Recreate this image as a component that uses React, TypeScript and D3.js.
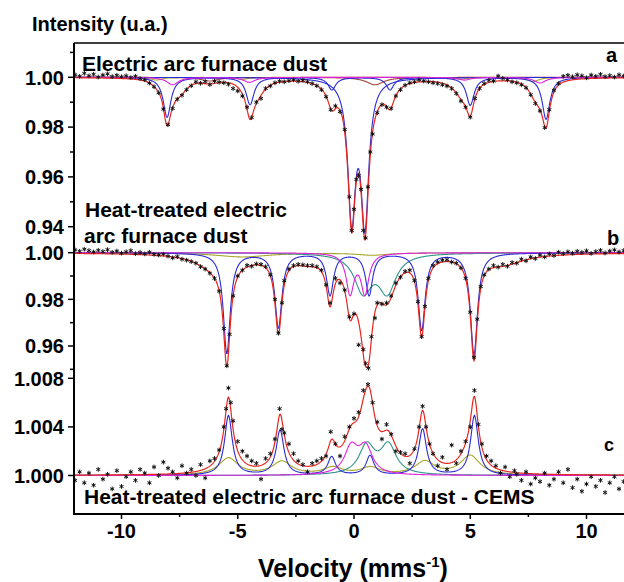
import React from 'react';
import * as d3 from 'd3';

// ---------- tick values ----------
const xTicks = [-10, -5, 0, 5, 10];
const xMinorTicks = [-7.5, -2.5, 2.5, 7.5];
const aTicks = [1.0, 0.98, 0.96, 0.94];
const aMinorTicks = [1.01, 0.99, 0.97, 0.95];
const bTicks = [1.0, 0.98, 0.96];
const bMinorTicks = [0.99, 0.97, 0.95];
const cTicks = [1.0, 1.004, 1.008];

// ---------- sub-spectra: [position (mm/s), depth, half width] ----------
const aSextetBlue = [[-8.04, 0.016, 0.2], [-4.47, 0.011, 0.2], [-0.95, 0.005, 0.2], [1.55, 0.005, 0.2], [5.0, 0.0112, 0.2], [8.26, 0.0168, 0.2]];
const aDoubletBlue = [[-0.1, 0.0545, 0.2], [0.47, 0.0565, 0.2]];
const aMagenta = [[-7.8, 0.003, 0.3], [-4.5, 0.002, 0.3], [4.75, 0.0011, 0.3], [8.0, 0.0023, 0.3]];
const aOlive = [[-8.5, 0.0011, 0.3], [-4.8, 0.0008, 0.3], [4.6, 0.0008, 0.3], [7.7, 0.0017, 0.3]];
const aBrown = [[-6.2, 0.0015, 0.45], [0.9, 0.003, 0.45]];
const aBroad = [[-7.45, 0.004, 0.35], [-4.15, 0.005, 0.4], [-0.95, 0.004, 0.35], [1.55, 0.004, 0.35], [4.65, 0.0045, 0.5], [7.85, 0.004, 0.35]];

const bSextetBlue = [[-5.47, 0.043, 0.18], [-3.25, 0.032, 0.18], [-1.03, 0.018, 0.18], [0.65, 0.018, 0.18], [2.91, 0.033, 0.18], [5.16, 0.0435, 0.18]];
const bMagenta = [[-0.17, 0.017, 0.2], [0.47, 0.017, 0.2]];
const bTeal = [[0.39, 0.016, 0.45], [1.43, 0.016, 0.45]];
const bOlive = [[-4.8, 0.0018, 1.4], [0.8, 0.001, 0.8]];
const bBroad = [[-6.0, 0.005, 0.9], [-2.0, 0.0025, 0.7], [6.4, 0.0045, 1.1]];

const cSextetBlue = [[-5.4, 0.0049, 0.2], [-3.18, 0.0037, 0.2], [-0.96, 0.0015, 0.2], [0.69, 0.0016, 0.2], [2.95, 0.0038, 0.2], [5.18, 0.0049, 0.2]];
const cOlive = [[-5.4, 0.0014, 0.5], [-3.1, 0.0011, 0.5], [-0.9, 0.0006, 0.5], [0.7, 0.0006, 0.5], [3.05, 0.0011, 0.5], [5.0, 0.0016, 0.5]];
const cMagenta = [[-0.12, 0.0022, 0.35], [0.5, 0.0022, 0.35]];
const cTeal = [[0.55, 0.0024, 0.4], [1.48, 0.0024, 0.4]];

// ---------- measured points: [velocity, relative intensity] ----------
const aPoints = [[-12.0, 1.001], [-11.8, 1.0004], [-11.6, 1.0016], [-11.4, 1.0006], [-11.2, 1.0012], [-11.0, 1.0001], [-10.8, 1.0009], [-10.6, 1.0014], [-10.4, 1.0003], [-10.2, 1.0008], [-10.0, 1.0002], [-9.8, 1.0006], [-9.6, 0.9999], [-9.4, 1.0004], [-9.2, 0.9995], [-9.0, 0.999], [-8.8, 0.9977], [-8.6, 0.9962], [-8.4, 0.9938], [-8.2, 0.9872], [-8.0, 0.981], [-7.8, 0.9875], [-7.6, 0.9912], [-7.4, 0.9928], [-7.2, 0.995], [-7.0, 0.9966], [-6.8, 0.9982], [-6.6, 0.9976], [-6.4, 0.9983], [-6.2, 0.9971], [-6.0, 0.9985], [-5.8, 0.998], [-5.6, 0.9978], [-5.4, 0.9972], [-5.2, 0.9955], [-5.0, 0.9945], [-4.8, 0.9925], [-4.6, 0.988], [-4.4, 0.9838], [-4.2, 0.99], [-4.0, 0.9915], [-3.8, 0.9955], [-3.6, 0.9965], [-3.4, 0.9978], [-3.2, 0.9984], [-3.0, 0.9982], [-2.8, 0.9986], [-2.6, 0.999], [-2.4, 0.9984], [-2.2, 0.9988], [-2.0, 0.9982], [-1.8, 0.9975], [-1.6, 0.9966], [-1.4, 0.995], [-1.2, 0.9922], [-1.0, 0.987], [-0.8, 0.9885], [-0.6, 0.9862], [-0.4, 0.979], [-0.2, 0.952], [-0.1, 0.9385], [0.0, 0.947], [0.1, 0.959], [0.2, 0.9605], [0.3, 0.955], [0.4, 0.9385], [0.5, 0.9355], [0.6, 0.956], [0.7, 0.97], [0.8, 0.9772], [1.0, 0.9858], [1.2, 0.989], [1.4, 0.988], [1.6, 0.9875], [1.8, 0.9925], [2.0, 0.995], [2.2, 0.9968], [2.4, 0.9978], [2.6, 0.9982], [2.8, 0.999], [3.0, 0.9985], [3.2, 0.9982], [3.4, 0.9978], [3.6, 0.9975], [3.8, 0.997], [4.0, 0.9965], [4.2, 0.9955], [4.4, 0.9935], [4.6, 0.9905], [4.8, 0.988], [5.0, 0.984], [5.2, 0.9915], [5.4, 0.9955], [5.6, 0.9975], [5.8, 0.9988], [6.0, 0.9985], [6.2, 1.0005], [6.4, 0.9996], [6.6, 0.999], [6.8, 0.9982], [7.0, 0.9978], [7.2, 0.997], [7.4, 0.9958], [7.6, 0.993], [7.8, 0.9895], [8.0, 0.9865], [8.2, 0.9798], [8.4, 0.987], [8.6, 0.9948], [8.8, 0.9975], [9.0, 1.0004], [9.2, 1.0008], [9.4, 1.0002], [9.6, 1.001], [9.8, 1.0006], [10.0, 0.9998], [10.2, 1.0009], [10.4, 1.0004], [10.6, 1.0012], [10.8, 1.0003], [11.0, 1.0007], [11.2, 1.0001], [11.4, 1.001], [11.6, 1.0005], [11.8, 1.0011], [12.0, 1.0004]];

const bPoints = [[-12.0, 1.0012], [-11.8, 1.0006], [-11.6, 1.0015], [-11.4, 1.0009], [-11.2, 1.0003], [-11.0, 1.001], [-10.8, 1.0005], [-10.6, 1.0013], [-10.4, 1.0002], [-10.2, 1.0007], [-10.0, 0.9998], [-9.8, 1.0004], [-9.6, 1.0009], [-9.4, 0.9996], [-9.2, 1.0001], [-9.0, 0.9995], [-8.8, 1.0002], [-8.6, 0.9993], [-8.4, 0.999], [-8.2, 0.9994], [-8.0, 0.9985], [-7.8, 0.9978], [-7.6, 0.9983], [-7.4, 0.9972], [-7.2, 0.9968], [-7.0, 0.9962], [-6.8, 0.9955], [-6.6, 0.994], [-6.4, 0.993], [-6.2, 0.9912], [-6.0, 0.989], [-5.8, 0.9835], [-5.6, 0.9675], [-5.47, 0.9515], [-5.35, 0.965], [-5.2, 0.9815], [-5.0, 0.99], [-4.8, 0.9925], [-4.6, 0.9946], [-4.4, 0.9942], [-4.2, 0.9952], [-4.0, 0.995], [-3.8, 0.994], [-3.6, 0.9905], [-3.4, 0.98], [-3.25, 0.9655], [-3.1, 0.9785], [-3.0, 0.988], [-2.8, 0.993], [-2.6, 0.9945], [-2.4, 0.995], [-2.2, 0.9948], [-2.0, 0.9945], [-1.8, 0.9945], [-1.6, 0.994], [-1.4, 0.9925], [-1.2, 0.9862], [-1.03, 0.9785], [-0.8, 0.989], [-0.6, 0.987], [-0.4, 0.984], [-0.2, 0.9725], [0.0, 0.9738], [0.2, 0.9605], [0.4, 0.9585], [0.5, 0.9525], [0.62, 0.9505], [0.75, 0.964], [0.9, 0.972], [1.0, 0.9785], [1.2, 0.978], [1.4, 0.9785], [1.6, 0.9815], [1.8, 0.987], [2.0, 0.9895], [2.2, 0.992], [2.4, 0.9925], [2.6, 0.988], [2.75, 0.979], [2.91, 0.964], [3.05, 0.977], [3.2, 0.989], [3.4, 0.9945], [3.6, 0.996], [3.8, 0.9968], [4.0, 0.997], [4.2, 0.996], [4.4, 0.9955], [4.6, 0.9935], [4.8, 0.989], [5.0, 0.9745], [5.16, 0.9552], [5.3, 0.9715], [5.45, 0.9855], [5.6, 0.9905], [5.8, 0.993], [6.0, 0.9945], [6.2, 0.9938], [6.4, 0.995], [6.6, 0.9942], [6.8, 0.9958], [7.0, 0.9955], [7.2, 0.9972], [7.4, 0.9965], [7.6, 0.9982], [7.8, 0.9975], [8.0, 0.999], [8.2, 0.9982], [8.4, 0.9995], [8.6, 0.9988], [8.8, 1.0002], [9.0, 0.9996], [9.2, 1.0004], [9.4, 0.9998], [9.6, 1.0006], [9.8, 1.0001], [10.0, 1.0008], [10.2, 0.9997], [10.4, 1.0005], [10.6, 1.001], [10.8, 0.9999], [11.0, 1.0007], [11.2, 1.0012], [11.4, 1.0003], [11.6, 1.0009], [11.8, 1.0014], [12.0, 1.0006]];

const cPoints = [[-12.0, 0.9996], [-11.8, 1.0003], [-11.6, 0.9994], [-11.4, 1.0002], [-11.2, 0.9992], [-11.0, 1.0005], [-10.8, 0.9997], [-10.6, 1.0001], [-10.4, 0.9989], [-10.2, 1.0004], [-10.0, 0.9991], [-9.8, 0.9999], [-9.6, 1.0003], [-9.4, 0.9996], [-9.2, 1.0005], [-9.0, 1.0002], [-8.8, 0.9994], [-8.6, 1.0007], [-8.4, 1.0], [-8.2, 1.0011], [-8.0, 1.0006], [-7.8, 1.0003], [-7.6, 0.9998], [-7.4, 1.0008], [-7.2, 1.0002], [-7.0, 1.0005], [-6.8, 1.0], [-6.6, 1.0009], [-6.4, 0.9998], [-6.2, 1.0012], [-6.0, 1.0014], [-5.8, 1.0021], [-5.6, 1.004], [-5.5, 1.0055], [-5.4, 1.0072], [-5.3, 1.006], [-5.2, 1.0045], [-5.0, 1.0028], [-4.8, 1.002], [-4.6, 1.0016], [-4.4, 1.0012], [-4.2, 1.001], [-4.0, 0.9997], [-3.8, 1.0014], [-3.6, 1.0018], [-3.4, 1.003], [-3.2, 1.0055], [-3.1, 1.0038], [-3.0, 1.0035], [-2.8, 1.0026], [-2.6, 1.0018], [-2.4, 1.0012], [-2.2, 1.0009], [-2.0, 1.0003], [-1.8, 1.001], [-1.6, 1.0012], [-1.4, 1.0014], [-1.2, 1.0016], [-1.0, 1.0036], [-0.8, 1.0026], [-0.6, 1.0016], [-0.4, 1.0032], [-0.2, 1.004], [0.0, 1.0047], [0.2, 1.0052], [0.4, 1.007], [0.6, 1.0075], [0.8, 1.006], [1.0, 1.0044], [1.2, 1.003], [1.4, 1.0042], [1.6, 1.0034], [1.8, 1.002], [2.0, 1.0019], [2.2, 1.0018], [2.4, 1.001], [2.6, 1.0022], [2.8, 1.004], [2.95, 1.0057], [3.1, 1.004], [3.25, 1.0026], [3.4, 1.0018], [3.6, 1.0008], [3.8, 1.0015], [4.0, 1.0005], [4.2, 1.0025], [4.4, 1.001], [4.6, 1.002], [4.8, 1.0028], [5.0, 1.004], [5.18, 1.007], [5.35, 1.0042], [5.5, 1.0026], [5.7, 1.0016], [5.9, 1.0012], [6.1, 1.0008], [6.3, 1.0002], [6.5, 1.0007], [6.7, 0.9999], [6.9, 1.0004], [7.0, 1.0001], [7.2, 0.9996], [7.4, 1.0003], [7.6, 0.9993], [7.8, 0.9998], [8.0, 0.9995], [8.2, 1.0002], [8.4, 0.9992], [8.6, 0.9997], [8.8, 1.0003], [9.0, 0.9994], [9.2, 1.0005], [9.4, 0.999], [9.6, 0.9997], [9.8, 0.9987], [10.0, 0.9993], [10.2, 0.9999], [10.4, 0.9991], [10.6, 0.9996], [10.8, 0.9986], [11.0, 0.9994], [11.2, 0.9999], [11.4, 0.9989], [11.6, 0.9995], [11.8, 0.9984], [12.0, 0.9992]];

// ---------- styles ----------
const COL = {
  blue: '#2a2ad8',
  red: '#e8261e',
  magenta: '#dd22dd',
  olive: '#a8a62c',
  teal: '#2e9488',
  brown: '#a4463c',
};
const FONT = '"Liberation Sans", Arial, Helvetica, sans-serif';

const W = 624;
const H = 582;
const LEFT = 74;
const TOP = 43;
const BOTTOM = 514;

const x = d3.scaleLinear().domain([-12, 12]).range([75, 633]);
const yA = d3.scaleLinear().domain([0.94, 1.0]).range([226.7, 77.3]);
const yB = d3.scaleLinear().domain([0.96, 1.0]).range([346, 252.7]);
const yC = d3.scaleLinear().domain([1.0, 1.008]).range([475.5, 378.3]);

const grid = d3.range(-12, 12.0001, 0.02);

function lor(sets: number[][][], v: number) {
  let s = 0;
  for (const set of sets) {
    for (const [p, d, g] of set) {
      const t = (v - p) / g;
      s += d / (1 + t * t);
    }
  }
  return s;
}

function curvePath(sets: number[][][], sign: number, y: d3.ScaleLinear<number, number>) {
  const gen = d3
    .line<number>()
    .x((v) => x(v))
    .y((v) => y(1 + sign * lor(sets, v)));
  return gen(grid) || '';
}

type Panel = {
  y: d3.ScaleLinear<number, number>;
  sign: number;
  comps: { lines: number[][]; color: string }[];
  hidden: number[][][];
  points: number[][];
};

const panels: Panel[] = [
  {
    y: yA,
    sign: -1,
    comps: [
      { lines: aOlive, color: COL.olive },
      { lines: aBrown, color: COL.brown },
      { lines: aSextetBlue, color: COL.blue },
      { lines: aDoubletBlue, color: COL.blue },
      { lines: aMagenta, color: COL.magenta },
    ],
    hidden: [aBroad],
    points: aPoints,
  },
  {
    y: yB,
    sign: -1,
    comps: [
      { lines: bOlive, color: COL.olive },
      { lines: bTeal, color: COL.teal },
      { lines: bSextetBlue, color: COL.blue },
      { lines: bMagenta, color: COL.magenta },
    ],
    hidden: [bBroad],
    points: bPoints,
  },
  {
    y: yC,
    sign: 1,
    comps: [
      { lines: cOlive, color: COL.olive },
      { lines: cTeal, color: COL.teal },
      { lines: cSextetBlue, color: COL.blue },
      { lines: cMagenta, color: COL.magenta },
    ],
    hidden: [],
    points: cPoints,
  },
];

const symType = (d3 as any).symbolAsterisk || d3.symbolCross;
const starPath = d3.symbol().type(symType).size(15)() || '';

export default function App() {
  return (
    <svg
      width={W}
      height={H}
      viewBox={`0 0 ${W} ${H}`}
      style={{ position: 'absolute', left: 0, top: 0, background: '#fff' }}
      fontFamily={FONT}
      fontWeight={700}
    >
      <rect x={0} y={0} width={W} height={H} fill="#fff" />

      {panels.map((p, i) => (
        <g key={i}>
          {p.comps.map((c, j) => (
            <path key={j} d={curvePath([c.lines], p.sign, p.y)} fill="none" stroke={c.color} strokeWidth={1.1} />
          ))}
          <path
            d={curvePath([...p.comps.map((c) => c.lines), ...p.hidden], p.sign, p.y)}
            fill="none"
            stroke={COL.red}
            strokeWidth={1.2}
          />
          {p.points.map(([v, val], k) => (
            <path
              key={k}
              d={starPath}
              transform={`translate(${x(v)},${p.y(val)})`}
              fill="none"
              stroke="#111"
              strokeWidth={1}
            />
          ))}
        </g>
      ))}

      {/* frame */}
      <line x1={LEFT} x2={W} y1={TOP} y2={TOP} stroke="#000" strokeWidth={1.6} />
      <line x1={LEFT} x2={LEFT} y1={TOP} y2={BOTTOM} stroke="#000" strokeWidth={2} />
      <line x1={LEFT - 1} x2={W} y1={BOTTOM} y2={BOTTOM} stroke="#000" strokeWidth={2} />

      {/* x ticks */}
      {xTicks.map((t) => (
        <g key={'xt' + t}>
          <line x1={x(t)} x2={x(t)} y1={BOTTOM} y2={BOTTOM + 5} stroke="#000" strokeWidth={1.5} />
          <text x={x(t)} y={538} textAnchor="middle" fontSize={20}>
            {t}
          </text>
        </g>
      ))}
      {xMinorTicks.map((t) => (
        <line key={'xm' + t} x1={x(t)} x2={x(t)} y1={BOTTOM} y2={BOTTOM + 3} stroke="#000" strokeWidth={1.5} />
      ))}

      {/* y ticks */}
      {[
        { s: yA, major: aTicks, minor: aMinorTicks, dec: 2 },
        { s: yB, major: bTicks, minor: bMinorTicks, dec: 2 },
        { s: yC, major: cTicks, minor: [] as number[], dec: 3 },
      ].map((ax, i) => (
        <g key={'ya' + i}>
          {ax.major.map((t) => (
            <g key={'m' + t}>
              <line x1={LEFT - 6} x2={LEFT} y1={ax.s(t)} y2={ax.s(t)} stroke="#000" strokeWidth={1.5} />
              <text x={64} y={ax.s(t)} dy="0.36em" textAnchor="end" fontSize={20}>
                {t.toFixed(ax.dec)}
              </text>
            </g>
          ))}
          {ax.minor.map((t) => (
            <line key={'n' + t} x1={LEFT - 4} x2={LEFT} y1={ax.s(t)} y2={ax.s(t)} stroke="#000" strokeWidth={1.5} />
          ))}
        </g>
      ))}

      {/* titles */}
      <text x={32} y={31} fontSize={20}>
        Intensity (u.a.)
      </text>
      <text x={82} y={71} fontSize={21}>
        Electric arc furnace dust
      </text>
      <text x={85} y={216.5} fontSize={21}>
        Heat-treated electric
      </text>
      <text x={84} y={242.5} fontSize={21}>
        arc furnace dust
      </text>
      <text x={84} y={503.5} fontSize={21}>
        Heat-treated electric arc furnace dust - CEMS
      </text>
      <text x={606} y={62} fontSize={20}>
        a
      </text>
      <text x={607} y={245} fontSize={20}>
        b
      </text>
      <text x={604} y={451} fontSize={18}>
        c
      </text>
      <text x={258} y={577} fontSize={25}>
        Velocity (mms
        <tspan dy={-10} fontSize={15}>
          -1
        </tspan>
        <tspan dy={10}>)</tspan>
      </text>
    </svg>
  );
}
